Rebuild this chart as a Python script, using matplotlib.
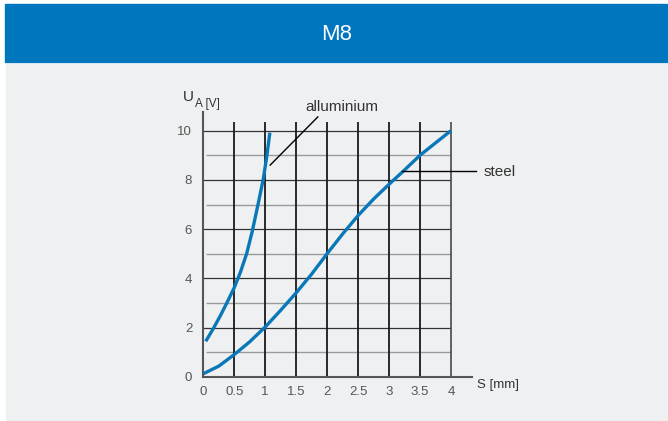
import matplotlib
matplotlib.use("Agg")
import matplotlib.pyplot as plt
from matplotlib.patches import Rectangle

plt.rcParams['font.family'] = ['Liberation Sans', 'DejaVu Sans']

# data
steel_s = [0, 0.25, 0.5, 0.75, 1.0, 1.25, 1.5, 1.75, 2.0, 2.25, 2.5, 2.75, 3.0, 3.25, 3.5, 3.75, 4.0]
steel_u = [0.12, 0.43, 0.9, 1.42, 2.02, 2.7, 3.41, 4.17, 5.0, 5.8, 6.55, 7.22, 7.82, 8.4, 9.0, 9.5, 10.0]

alu_s = [0.04, 0.16, 0.28, 0.38, 0.5, 0.6, 0.7, 0.79, 0.88, 0.97, 1.025, 1.075]
alu_u = [1.44, 1.95, 2.5, 3.0, 3.62, 4.25, 5.0, 5.9, 6.95, 8.05, 8.95, 9.92]

x_ticks = [0, 0.5, 1, 1.5, 2, 2.5, 3, 3.5, 4]
x_labels = ['0', '0.5', '1', '1.5', '2', '2.5', '3', '3.5', '4']
y_ticks = [0, 2, 4, 6, 8, 10]

title = 'M8'
BLUE = '#0076be'
CURVE = '#0a78b8'
PANEL = '#eff0f2'

W, H = 668, 421


def main():
    fig = plt.figure(figsize=(W / 100, H / 100), dpi=100, facecolor='white')

    # header bar and grey panel (behind the axes)
    fig.patches.append(Rectangle((5 / W, 1 - 62 / H), 663 / W, 58 / H,
                                 transform=fig.transFigure, color=BLUE, zorder=-5))
    fig.patches.append(Rectangle((6 / W, 0), 662 / W, 1 - 64 / H,
                                 transform=fig.transFigure, color=PANEL, zorder=-5))
    fig.text(337 / W, 1 - 34 / H, title, color='white', fontsize=16,
             ha='center', va='center')

    # axes: x=0 at px 203.3, 61.9 px per mm; y=0 at px 376.7, 24.6 px per V
    ax = fig.add_axes([203.3 / W, (H - 376.7) / H, 4.4 * 61.9 / W, 10.8 * 24.6 / H])
    ax.set_facecolor('none')
    ax.set_xlim(0, 4.4)
    ax.set_ylim(0, 10.8)

    for s in ['top', 'right']:
        ax.spines[s].set_visible(False)
    for s in ['left', 'bottom']:
        ax.spines[s].set_color('#555555')
        ax.spines[s].set_linewidth(1.5)
    ax.spines['bottom'].set_bounds(0, 4.34)
    ax.spines['left'].set_bounds(0, 10.75)

    # grid
    for y in range(1, 11):
        if y % 2:
            ax.hlines(y, 0.05, 4, color='#9a9a9a', lw=1.0, zorder=1)
        else:
            ax.hlines(y, 0, 4, color='#333333', lw=0.9, zorder=1)
    for x in x_ticks[1:]:
        c = '#555555' if x == 4 else '#1a1a1a'
        ax.vlines(x, 0, 10.37, color=c, lw=1.3, zorder=1)

    # curves
    for s, u in [(steel_s, steel_u), (alu_s, alu_u)]:
        ax.plot(s, u, color=CURVE, lw=2.4, solid_capstyle='butt',
                solid_joinstyle='round', zorder=3)

    # leaders and labels
    ax.plot([1.08, 1.85], [8.6, 10.56], color='black', lw=1, clip_on=False, zorder=4)
    ax.text(2.24, 10.8, 'alluminium', fontsize=11, color='#333333',
            ha='center', va='baseline')
    ax.plot([3.21, 4.41], [8.37, 8.37], color='black', lw=1, clip_on=False, zorder=4)
    ax.text(4.535, 8.37, 'steel', fontsize=11, color='#333333',
            ha='left', va='center_baseline', clip_on=False)

    ax.set_xticks(x_ticks)
    ax.set_xticklabels(x_labels)
    ax.set_yticks(y_ticks)
    ax.tick_params(length=0, labelsize=9.5, labelcolor='#555555')
    ax.tick_params(axis='x', pad=7)
    ax.tick_params(axis='y', pad=8)

    ax.text(4.415, -0.34, 'S [mm]', fontsize=9.5, color='#333333',
            ha='left', va='center', clip_on=False)
    ax.text(-0.328, 11.22, 'U', fontsize=11, color='#333333',
            ha='left', va='baseline', clip_on=False)
    ax.text(-0.13, 10.95, 'A [V]', fontsize=8.5, color='#333333',
            ha='left', va='baseline', clip_on=False)

    fig.savefig('out.png', dpi=100, facecolor='white')


if __name__ == "__main__":
    main()
